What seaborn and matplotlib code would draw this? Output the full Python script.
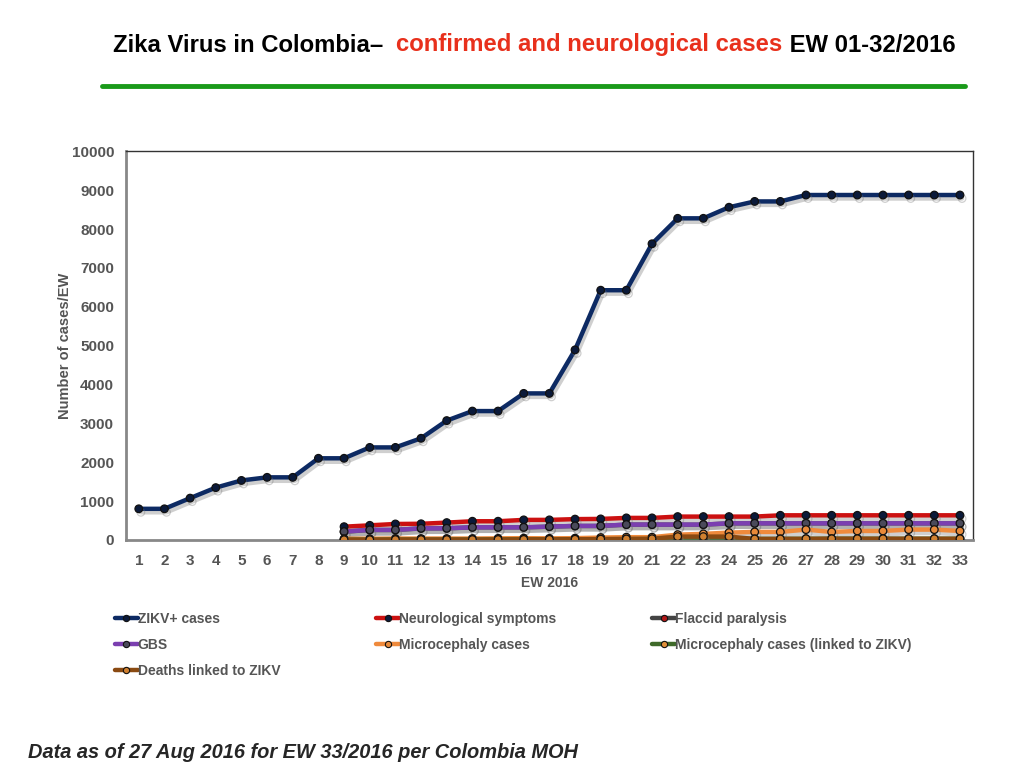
import numpy as np
import pandas as pd
import seaborn as sns
import matplotlib.pyplot as plt
import matplotlib.patheffects as pe
from matplotlib.lines import Line2D

# epidemiological weeks
weeks = list(range(1, 34))
late_weeks = list(range(9, 34))

# cumulative values
zikv = [800, 800, 1075, 1345, 1530, 1610, 1610, 2100, 2100, 2380, 2380, 2615, 3070,
        3315, 3315, 3770, 3770, 4890, 6425, 6425, 7620, 8275, 8275, 8560, 8710, 8710,
        8875, 8875, 8875, 8875, 8875, 8875, 8875]
neuro = [340, 375, 410, 415, 445, 480, 480, 515, 515, 535, 540, 566, 566, 600, 600,
         600, 600, 633, 633, 633, 633, 633, 633, 633, 633]
flaccid = [210, 255, 255, 295, 298, 322, 322, 322, 340, 358, 358, 392, 392, 392, 392,
           425, 425, 425, 425, 425, 425, 425, 425, 425, 425]
gbs = [214, 257, 257, 298, 298, 324, 324, 324, 342, 360, 360, 394, 394, 394, 394,
       427, 427, 427, 427, 427, 427, 427, 427, 427, 427]
microceph = [30, 30, 35, 35, 35, 35, 40, 45, 40, 45, 60, 70, 70, 135, 155, 188, 205,
             205, 265, 205, 230, 230, 265, 265, 230]
microceph_zikv = [5, 5, 8, 8, 8, 8, 10, 12, 12, 15, 18, 20, 20, 25, 25, 25, 25, 25,
                  30, 30, 30, 30, 30, 30, 30]
deaths = [5, 5, 8, 8, 8, 8, 10, 12, 14, 16, 20, 25, 30, 85, 85, 85, 25, 25, 30, 30,
          30, 30, 30, 30, 30]

series = [
    ("ZIKV+ cases", weeks, zikv, "#0d2a63", "#0b1a3a"),
    ("Neurological symptoms", late_weeks, neuro, "#cc1111", "#0b1a3a"),
    ("Flaccid paralysis", late_weeks, flaccid, "#444444", "#b01818"),
    ("GBS", late_weeks, gbs, "#7b3fb0", "#4a4a5a"),
    ("Microcephaly cases", late_weeks, microceph, "#ef8a3c", "#e88a3a"),
    ("Microcephaly cases (linked to ZIKV)", late_weeks, microceph_zikv, "#3f6a2a", "#e0903a"),
    ("Deaths linked to ZIKV", late_weeks, deaths, "#8a4a12", "#d08030"),
]

sns.set_theme(style="white")
plt.rcParams['font.family'] = ['Liberation Sans', 'DejaVu Sans']

fig = plt.figure(figsize=(10.24, 7.68), dpi=100)
ax = fig.add_axes([0.123, 0.297, 0.827, 0.506])

shadow = [pe.SimpleLineShadow(offset=(1.5, -2.5), shadow_color="#777777", alpha=0.35),
          pe.Normal()]

handles = {}
# draw from back to front: small series first so ZIKV and neuro stay on top
draw_order = [2, 3, 6, 5, 4, 1, 0]
for i in draw_order:
    name, x, y, col, mcol = series[i]
    df = pd.DataFrame({"EW": x, "cases": y})
    sns.lineplot(data=df, x="EW", y="cases", ax=ax, color=col, linewidth=3.2,
                 marker="o", markersize=5.5, markerfacecolor=mcol,
                 markeredgecolor="#111111", markeredgewidth=0.9,
                 path_effects=shadow, zorder=3 + i * 0.1)
    handles[name] = Line2D([], [], color=col, linewidth=3.2, marker="o", markersize=4.5,
                           markerfacecolor=mcol, markeredgecolor="#111111",
                           markeredgewidth=0.8)

ax.set_xlim(0.5, 33.5)
ax.set_ylim(0, 10000)
ax.set_xticks(weeks)
ax.set_xticklabels([str(w) for w in weeks])
ax.set_yticks(range(0, 10001, 1000))
ax.tick_params(axis="both", length=0, labelsize=11, labelcolor="#555555")
ax.tick_params(axis="x", pad=10)
ax.tick_params(axis="y", pad=8.5)
for lab in ax.get_xticklabels() + ax.get_yticklabels():
    lab.set_fontweight("bold")
ax.set_xlabel("EW 2016", fontsize=10, fontweight="bold", color="#555555", labelpad=6)
ax.set_ylabel("Number of cases/EW", fontsize=10.5, fontweight="bold", color="#555555",
              labelpad=0)
ax.grid(False)
for side in ["left", "bottom"]:
    ax.spines[side].set_color("#888888")
    ax.spines[side].set_linewidth(2)
for side in ["top", "right"]:
    ax.spines[side].set_color("#333333")
    ax.spines[side].set_linewidth(1)

# legend, filled row by row like the original
leg_order = ["ZIKV+ cases", "GBS", "Deaths linked to ZIKV", "Neurological symptoms",
             "Microcephaly cases", "Flaccid paralysis", "Microcephaly cases (linked to ZIKV)"]
leg = fig.legend([handles[n] for n in leg_order], leg_order, ncol=3, frameon=False,
                 loc="upper left", bbox_to_anchor=(0.100, 0.219), handlelength=1.65,
                 handletextpad=0.0, columnspacing=6.9, labelspacing=0.85,
                 prop={"size": 10, "weight": "bold"})
for t in leg.get_texts():
    t.set_color("#555555")

# title in three colours
fig.canvas.draw()
renderer = fig.canvas.get_renderer()
parts = [("Zika Virus in Colombia\u2013  ", "black"),
         ("confirmed and neurological cases", "#e8301c"),
         (" EW 01-32/2016", "black")]
x0 = 113 / 1024
for txt, col in parts:
    t = fig.text(x0, 1 - 45 / 768, txt, color=col, fontsize=17.2, fontweight="bold",
                 va="center", ha="left")
    bb = t.get_window_extent(renderer=renderer)
    x0 += bb.width / fig.bbox.width

fig.add_artist(Line2D([102 / 1024, 965 / 1024], [1 - 86 / 768, 1 - 86 / 768],
                      color="#1a9a1a", linewidth=3.5))

fig.text(28 / 1024, 1 - 752 / 768, "Data as of 27 Aug 2016 for EW 33/2016 per Colombia MOH",
         fontsize=14.4, fontweight="bold", fontstyle="italic", va="center", ha="left")

fig.savefig("out.png", dpi=100, facecolor="white")
